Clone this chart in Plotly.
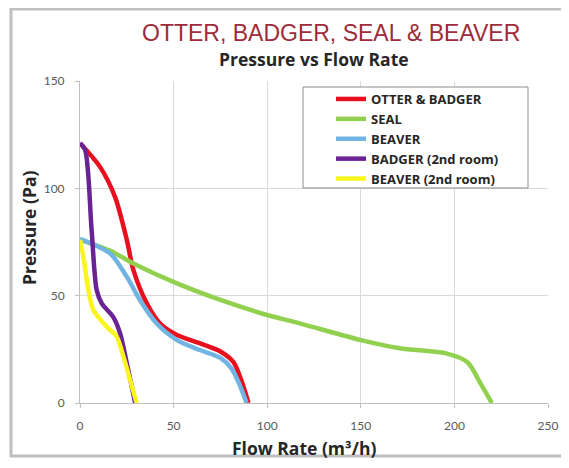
import plotly.graph_objects as go

# ---- data ----
otter_badger_x = [0, 10.7, 18.7, 25, 28.5, 35.7, 42.8, 51.8, 64.2, 75, 82, 86, 90]
otter_badger_y = [121, 110, 96, 76, 62, 46.4, 37, 31.7, 27.8, 24, 19, 11, 0]

seal_x = [0, 16, 28.5, 51.8, 75, 100, 117.8, 150, 171, 196, 207, 214, 220]
seal_y = [76, 71, 65, 55.7, 48, 41, 37, 29.3, 25.5, 23, 19, 9, 0]

beaver_x = [0, 16, 25, 32, 41, 51.8, 64, 75, 81, 85, 89]
beaver_y = [76.5, 69.7, 58.8, 48, 37, 29.3, 24.7, 21, 16, 9, 0]

badger2_x = [0, 2.7, 6.2, 8.9, 11.6, 17.8, 21.4, 25, 29.5]
badger2_y = [121, 118, 80.6, 52.6, 46.4, 40, 32.5, 18.5, 0]

beaver2_x = [0, 1.8, 4.5, 7.1, 14.3, 19.6, 23.2, 27, 30.3]
beaver2_y = [76, 68, 52.6, 43.3, 35.5, 30.9, 21.6, 10, 0]

series = [
    ("OTTER & BADGER", otter_badger_x, otter_badger_y, "#E8101E"),
    ("SEAL", seal_x, seal_y, "#92D050"),
    ("BEAVER", beaver_x, beaver_y, "#6FB4E2"),
    ("BADGER (2nd room)", badger2_x, badger2_y, "#6A2395"),
    ("BEAVER (2nd room)", beaver2_x, beaver2_y, "#FAF51E"),
]

x_ticks = [0, 50, 100, 150, 200, 250]
y_ticks = [0, 50, 100, 150]

fig = go.Figure()
for name, xs, ys, col in series:
    fig.add_trace(go.Scatter(x=xs, y=ys, name=name, mode="lines",
                             line=dict(color=col, width=4.5, shape="spline", smoothing=0.8)))

OFF = 8  # page body margin
W, H = 569 - OFF, 468 - OFF
L, R, T, B = 80 - OFF, 21, 81 - OFF, 65
pw, ph = W - L - R, H - T - B

def px(xp):
    return (xp - OFF - L) / pw

def py(yp):
    return (H - B - (yp - OFF)) / ph

def ann(text, xp, yp, size, color, family, angle=0):
    return dict(text=text, x=px(xp), y=py(yp), xref="paper", yref="paper",
                xanchor="center", yanchor="middle", showarrow=False, textangle=angle,
                font=dict(family=family, size=size, color=color))

fig.update_layout(
    width=W, height=H,
    margin=dict(l=L, r=R, t=T, b=B, autoexpand=False),
    paper_bgcolor="white", plot_bgcolor="white",
    font=dict(family="Lato, Open Sans, sans-serif", color="#595959"),
    showlegend=True,
    legend=dict(x=px(331), y=py(84), xanchor="left", yanchor="top",
                bgcolor="rgba(0,0,0,0)", borderwidth=0,
                font=dict(family="Open Sans, sans-serif", size=13, color="#262626", weight="bold"),
                itemwidth=30, tracegroupgap=0),
    xaxis=dict(range=[0, 250], tickvals=x_ticks, showgrid=True, gridcolor="#D9D9D9",
               gridwidth=1, zeroline=False, showline=True, linecolor="#BFBFBF",
               ticks="outside", ticklen=4, tickcolor="#BFBFBF", ticklabelstandoff=8,
               tickfont=dict(family="Lato, sans-serif", size=12, color="#595959")),
    yaxis=dict(range=[0, 150], tickvals=y_ticks, showgrid=True, gridcolor="#D9D9D9",
               gridwidth=1, zeroline=False, showline=True, linecolor="#BFBFBF",
               ticks="outside", ticklen=4, tickcolor="#BFBFBF", ticklabelstandoff=8,
               tickfont=dict(family="Lato, sans-serif", size=12, color="#595959")),
    annotations=[
        ann("OTTER, BADGER, SEAL & BEAVER", 331, 33, 23, "#9E2B3A", "Liberation Sans, Arial"),
        ann("<b>Pressure vs Flow Rate</b>", 314, 59, 17.5, "#262626", "Open Sans, sans-serif"),
        ann("<b>Flow Rate (m³/h)</b>", 304, 448, 17.5, "#262626", "Open Sans, sans-serif"),
        ann("<b>Pressure (Pa)</b>", 29, 228, 17.5, "#262626", "Open Sans, sans-serif", -90),
    ],
    shapes=[
        dict(type="rect", xref="paper", yref="paper", x0=px(11), x1=px(563), y0=py(456), y1=py(9),
             line=dict(color="#BFBFBF", width=3), fillcolor="rgba(0,0,0,0)", layer="below"),
        dict(type="rect", xref="paper", yref="paper", x0=px(303), x1=px(528), y0=py(188), y1=py(87),
             line=dict(color="#8C8C8C", width=1), fillcolor="white", layer="above"),
    ],
)

fig.write_html("out.html")
